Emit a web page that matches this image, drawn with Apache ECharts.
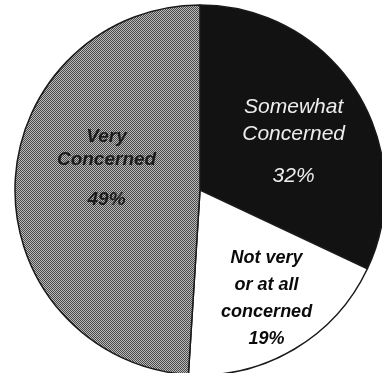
<!DOCTYPE html>
<html>
<head>
<meta charset="utf-8">
<script src="https://cdn.jsdelivr.net/npm/echarts@6/dist/echarts.min.js"></script>
<style>html,body{margin:0;padding:0;background:#fff;}#c{width:382px;height:373px;}</style>
</head>
<body>
<div id="c"></div>
<script>
// Data
const categories = ['Somewhat Concerned', 'Not very or at all concerned', 'Very Concerned'];
const values = [32, 19, 49];
const labelLines = [['Somewhat', 'Concerned'], ['Not very', 'or at all', 'concerned'], ['Very', 'Concerned']];

// dithered gray pattern
const pc = document.createElement('canvas');
pc.width = 2; pc.height = 2;
const pctx = pc.getContext('2d');
pctx.fillStyle = '#bababa'; pctx.fillRect(0, 0, 2, 2);
pctx.fillStyle = '#4a4a4a'; pctx.fillRect(0, 0, 1, 1); pctx.fillRect(1, 1, 1, 1);

const fills = ['#121212', '#ffffff', { image: pc, repeat: 'repeat' }];
const labelStyles = [
  { color: '#ededed', fontWeight: 'normal', size: 21, lh: 27, plh: 57 },
  { color: '#0a0a0a', fontWeight: 'bold', size: 18, lh: 27, plh: 27 },
  { color: '#1c1c1c', fontWeight: 'bold', size: 19, lh: 23, plh: 57 }
];
const offsets = [[13, 10], [18, 26], [2, -10]];

const chart = echarts.init(document.getElementById('c'), null, { renderer: 'canvas' });
chart.setOption({
  animation: false,
  backgroundColor: '#ffffff',
  series: [{
    type: 'pie',
    center: [200, 190],
    radius: 185,
    startAngle: 90,
    clockwise: true,
    silent: true,
    itemStyle: { borderColor: '#1a1a1a', borderWidth: 1.5 },
    labelLine: { show: false },
    labelLayout: function (p) {
      const o = offsets[p.dataIndex];
      return { dx: o[0], dy: o[1] };
    },
    data: categories.map(function (name, i) {
      const s = labelStyles[i];
      const base = { fontFamily: 'Liberation Sans, Arial, sans-serif', fontStyle: 'italic', fontSize: s.size, color: s.color, fontWeight: s.fontWeight };
      return {
        name: name,
        value: values[i],
        itemStyle: { color: fills[i] },
        label: {
          show: true,
          position: 'inside',
          formatter: labelLines[i].map(function (l) { return '{n|' + l + '}'; }).join('\n') + '\n{p|' + values[i] + '%}',
          rich: {
            n: Object.assign({}, base, { lineHeight: s.lh }),
            p: Object.assign({}, base, { lineHeight: s.plh })
          }
        }
      };
    })
  }]
});
</script>
</body>
</html>
